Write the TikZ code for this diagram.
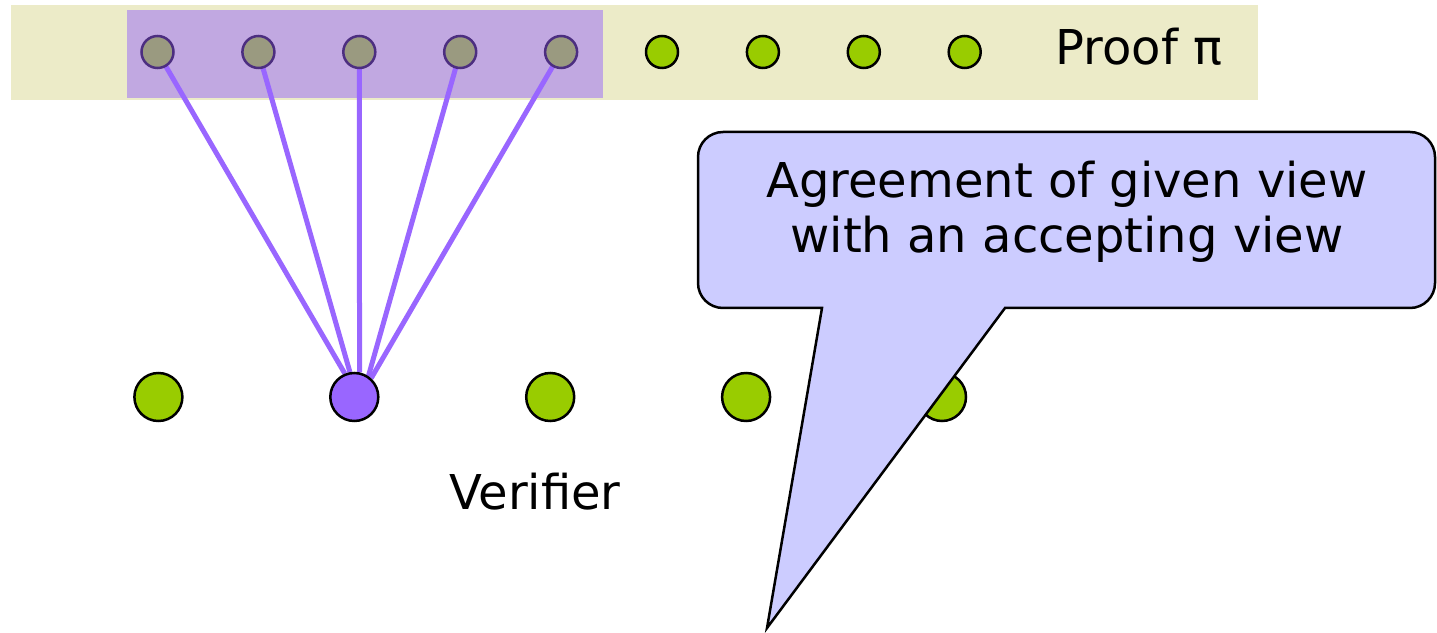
\documentclass[tikz,border=0pt]{standalone}
\usepackage{fontspec}
\setmainfont{DejaVu Sans}
\usepackage{xcolor}
\usepackage{tikz}
\usetikzlibrary{backgrounds}

\definecolor{bandcol}{HTML}{ECEBC8}
\definecolor{pickcol}{HTML}{C1A8E1}
\definecolor{cellgreen}{HTML}{99CC00}
\definecolor{cellgrey}{HTML}{9A9A80}
\definecolor{darkpurple}{HTML}{4C2E80}
\definecolor{querycol}{HTML}{9966FF}
\definecolor{notecol}{HTML}{CCCCFF}

\begin{document}
\begin{tikzpicture}[x=1pt, y=1pt,
	cell/.style={circle,inner sep=0pt,minimum size=32pt,line width=2.5pt,fill=cellgreen,draw=black},
	picked/.style={cell,fill=cellgrey,draw=darkpurple},
	vnode/.style={circle,inner sep=0pt,minimum size=48pt,line width=2.5pt,fill=cellgreen,draw=black},
	query/.style={querycol,line width=5pt},
	label/.style={font=\fontsize{48}{55}\selectfont,inner sep=0pt}]

\useasboundingbox (0,0) rectangle (1437,632);

% the proof string
\foreach \i in {1,...,5}
{
	\node (p\i) at ({56.6+100.9*\i},580) [picked] {};
}
\foreach \i in {6,...,9}
{
	\node (p\i) at ({56.6+100.9*\i},580) [cell] {};
}
\node (proof) at (1139,585) [label] {Proof π};

% the verifier's nodes
\foreach \i in {1,3,4,5}
{
	\node (v\i) at ({-37.5+195.9*\i},235) [vnode] {};
}
\node (v2) at (354.3,235) [vnode,fill=querycol] {};
\node (verifier) at (535,140) [label] {Verifier};

\begin{pgfonlayer}{background}
	\fill[bandcol] (11,532) rectangle (1258,627);
	\fill[pickcol] (127,534) rectangle (603,622);
	\foreach \i/\a in {1/112,2/100,3/78,4/56,5/48}
	{
		\draw[query] (p\i.center) -- (v2.\a);
	}
\end{pgfonlayer}

% speech bubble
\draw[line width=2.5pt,fill=notecol,line join=miter]
	(822,324) -- (723,324) arc[start angle=270,end angle=180,radius=25]
	-- (698,475) arc[start angle=180,end angle=90,radius=25]
	-- (1410,500) arc[start angle=90,end angle=0,radius=25]
	-- (1435,349) arc[start angle=0,end angle=-90,radius=25]
	-- (1005,324) -- (767,4) -- cycle;
\node (note) at (1067,420) [label,align=center] {Agreement of given view\\with an accepting view};

\end{tikzpicture}
\end{document}
